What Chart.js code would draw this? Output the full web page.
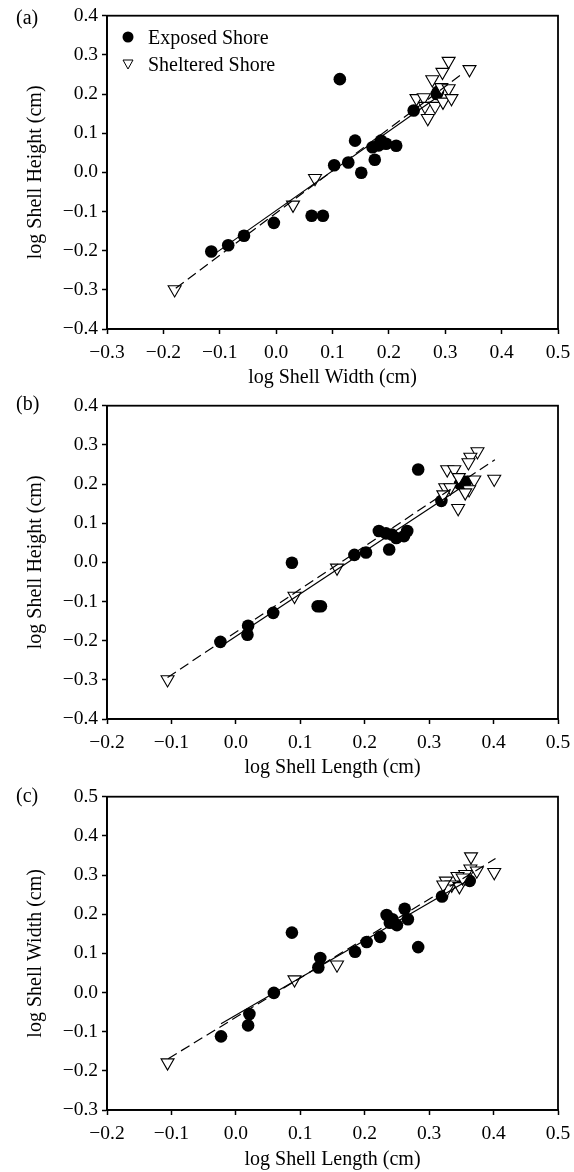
<!DOCTYPE html>
<html lang="en">
<head>
<meta charset="UTF-8">
<title>Shell allometry: exposed vs sheltered shore</title>
<style>
  body { margin: 0; background: #fff; font-family: "Liberation Serif", "Times New Roman", serif; }
  #page { position: relative; width: 574px; height: 1172px; }
  .panel { position: absolute; left: 0; width: 574px; }
  .tag { position: absolute; left: 16px; font-size: 20px; color: #000; line-height: 1; }
  .legend { position: absolute; left: 122px; font-size: 20px; color: #000; }
  .legend div { position: absolute; white-space: nowrap; height: 22px; line-height: 22px; }
  .legend svg { position: absolute; left: 0; }
  .legend span { position: absolute; left: 26px; }
</style>
<script src="https://cdn.jsdelivr.net/npm/chart.js"></script>
</head>
<body>
<div id="page">
  <div class="panel" style="top:0"><canvas id="chartA" width="574" height="390"></canvas></div>
  <div class="panel" style="top:390px"><canvas id="chartB" width="574" height="390"></canvas></div>
  <div class="panel" style="top:781px"><canvas id="chartC" width="574" height="391"></canvas></div>

  <div class="tag" style="top:7px">(a)</div>
  <div class="tag" style="top:393px">(b)</div>
  <div class="tag" style="top:785px">(c)</div>

  <div class="legend" style="top:26px">
    <div style="top:0">
      <svg width="12" height="22"><circle cx="6" cy="11" r="5.5" fill="#000"/></svg>
      <span>Exposed Shore</span>
    </div>
    <div style="top:27px">
      <svg width="12" height="22"><polygon points="1,7 11,7 6,16" fill="#fff" stroke="#000" stroke-width="1"/></svg>
      <span>Sheltered Shore</span>
    </div>
  </div>
</div>

<script>
// (a) log shell height vs log shell width
const aExposedX = [-0.115, -0.085, -0.057, -0.004, 0.063, 0.083, 0.113, 0.103, 0.128, 0.140, 0.151, 0.175, 0.171, 0.186, 0.182, 0.195, 0.213, 0.244, 0.285, 0.287];
const aExposedY = [-0.202, -0.186, -0.162, -0.129, -0.111, -0.111, 0.238, 0.018, 0.025, 0.081, -0.001, 0.032, 0.064, 0.081, 0.069, 0.073, 0.068, 0.158, 0.200, 0.206];
const aShelteredX = [-0.180, 0.030, 0.069, 0.306, 0.295, 0.277, 0.343, 0.293, 0.306, 0.249, 0.262, 0.264, 0.282, 0.296, 0.311, 0.269];
const aShelteredY = [-0.299, -0.083, -0.015, 0.284, 0.256, 0.237, 0.263, 0.217, 0.214, 0.189, 0.191, 0.169, 0.169, 0.180, 0.189, 0.138];
const aExposedFitX = [-0.113, 0.290];
const aExposedFitY = [-0.212, 0.196];
const aShelteredFitX = [-0.178, 0.333];
const aShelteredFitY = [-0.296, 0.255];

// (b) log shell height vs log shell length
const bExposedX = [-0.024, 0.018, 0.019, 0.058, 0.087, 0.127, 0.132, 0.184, 0.202, 0.222, 0.233, 0.238, 0.242, 0.249, 0.261, 0.266, 0.283, 0.319, 0.348, 0.357];
const bExposedY = [-0.203, -0.185, -0.162, -0.129, -0.001, -0.112, -0.112, 0.019, 0.025, 0.080, 0.074, 0.033, 0.071, 0.062, 0.067, 0.080, 0.237, 0.157, 0.200, 0.206];
const bShelteredX = [-0.106, 0.091, 0.157, 0.375, 0.364, 0.361, 0.328, 0.339, 0.346, 0.370, 0.401, 0.325, 0.333, 0.362, 0.356, 0.322, 0.345];
const bShelteredY = [-0.299, -0.086, -0.014, 0.283, 0.269, 0.255, 0.237, 0.237, 0.217, 0.211, 0.213, 0.191, 0.191, 0.186, 0.178, 0.173, 0.138];
const bExposedFitX = [-0.022, 0.358];
const bExposedFitY = [-0.213, 0.200];
const bShelteredFitX = [-0.106, 0.402];
const bShelteredFitY = [-0.294, 0.262];

// (c) log shell width vs log shell length
const cExposedX = [-0.023, 0.019, 0.021, 0.059, 0.087, 0.128, 0.131, 0.185, 0.203, 0.224, 0.234, 0.239, 0.243, 0.250, 0.262, 0.267, 0.283, 0.320, 0.350, 0.363];
const cExposedY = [-0.112, -0.084, -0.055, -0.001, 0.153, 0.064, 0.088, 0.104, 0.129, 0.142, 0.198, 0.178, 0.187, 0.172, 0.214, 0.187, 0.116, 0.245, 0.286, 0.285];
const cShelteredX = [-0.106, 0.091, 0.157, 0.365, 0.401, 0.364, 0.374, 0.356, 0.344, 0.326, 0.335, 0.347, 0.328, 0.352, 0.322];
const cShelteredY = [-0.179, 0.033, 0.071, 0.347, 0.307, 0.316, 0.311, 0.302, 0.297, 0.285, 0.275, 0.271, 0.265, 0.293, 0.275];
const cExposedFitX = [-0.023, 0.366];
const cExposedFitY = [-0.080, 0.292];
const cShelteredFitX = [-0.105, 0.403];
const cShelteredFitY = [-0.169, 0.342];

const serif = "'Liberation Serif', 'Times New Roman', serif";

// pair up x and y lists into chart points
function pts(xs, ys) {
    return xs.map((x, i) => ({ x: x, y: ys[i] }));
}

function fmt(v) {
    if (Math.abs(v) < 1e-9) return '0.0';
    return v.toFixed(1).replace('-', '\u2212');
}

// box around the plotting area
const frame = {
    id: 'frame',
    afterDraw(chart) {
        const a = chart.chartArea;
        const ctx = chart.ctx;
        ctx.save();
        ctx.strokeStyle = '#000';
        ctx.lineWidth = 1.8;
        ctx.strokeRect(a.left, a.top, a.right - a.left, a.bottom - a.top);
        ctx.restore();
    }
};

function axis(min, max, label, isX, fitSize) {
    return {
        type: 'linear',
        min: min,
        max: max,
        ticks: {
            stepSize: 0.1,
            callback: fmt,
            color: '#000',
            font: { family: serif, size: 19.5 },
            padding: isX ? 7 : 4,
            maxRotation: 0
        },
        grid: {
            drawOnChartArea: false,
            drawTicks: true,
            tickLength: 5,
            tickWidth: 1.5,
            tickColor: '#000'
        },
        border: { display: true, color: '#000', width: 1.8 },
        title: {
            display: true,
            text: label,
            color: '#000',
            font: { family: serif, size: 20 },
            padding: isX ? { top: 0, bottom: 0 } : { top: 24, bottom: 0 }
        },
        afterFit(scale) {
            if (isX) {
                scale.height = fitSize;
                scale.paddingLeft = 0;
                scale.paddingRight = 0;
            } else {
                scale.width = fitSize;
            }
        }
    };
}

function makePanel(id, p) {
    const ctx = document.getElementById(id).getContext('2d');
    const h = document.getElementById(id).height;
    return new Chart(ctx, {
        type: 'scatter',
        data: {
            datasets: [
                {
                    label: 'Exposed Shore',
                    data: pts(p.ex, p.ey),
                    pointStyle: 'circle',
                    pointRadius: 6.3,
                    backgroundColor: '#000',
                    borderColor: '#000',
                    borderWidth: 0,
                    order: 3
                },
                {
                    label: 'Sheltered Shore',
                    data: pts(p.sx, p.sy),
                    pointStyle: 'triangle',
                    pointRotation: 180,
                    pointRadius: 7.5,
                    backgroundColor: '#fff',
                    borderColor: '#000',
                    borderWidth: 1.1,
                    order: 2
                },
                {
                    label: 'Exposed fit',
                    data: pts(p.efx, p.efy),
                    showLine: true,
                    pointRadius: 0,
                    borderColor: '#000',
                    borderWidth: 1.2,
                    order: 1
                },
                {
                    label: 'Sheltered fit',
                    data: pts(p.sfx, p.sfy),
                    showLine: true,
                    pointRadius: 0,
                    borderColor: '#000',
                    borderWidth: 1.2,
                    borderDash: [10, 5],
                    order: 0
                }
            ]
        },
        options: {
            responsive: false,
            animation: false,
            devicePixelRatio: 1,
            layout: { padding: { left: 0, right: 16, top: 14, bottom: 0 } },
            scales: {
                x: axis(p.xmin, p.xmax, p.xlabel, true, h - 14 - 315),
                y: axis(p.ymin, p.ymax, p.ylabel, false, 107)
            },
            plugins: {
                legend: { display: false },
                tooltip: { enabled: false }
            }
        },
        plugins: [frame]
    });
}

makePanel('chartA', {
    ex: aExposedX, ey: aExposedY, sx: aShelteredX, sy: aShelteredY,
    efx: aExposedFitX, efy: aExposedFitY, sfx: aShelteredFitX, sfy: aShelteredFitY,
    xmin: -0.3, xmax: 0.5, ymin: -0.4, ymax: 0.4,
    xlabel: 'log Shell Width (cm)', ylabel: 'log Shell Height (cm)'
});

makePanel('chartB', {
    ex: bExposedX, ey: bExposedY, sx: bShelteredX, sy: bShelteredY,
    efx: bExposedFitX, efy: bExposedFitY, sfx: bShelteredFitX, sfy: bShelteredFitY,
    xmin: -0.2, xmax: 0.5, ymin: -0.4, ymax: 0.4,
    xlabel: 'log Shell Length (cm)', ylabel: 'log Shell Height (cm)'
});

makePanel('chartC', {
    ex: cExposedX, ey: cExposedY, sx: cShelteredX, sy: cShelteredY,
    efx: cExposedFitX, efy: cExposedFitY, sfx: cShelteredFitX, sfy: cShelteredFitY,
    xmin: -0.2, xmax: 0.5, ymin: -0.3, ymax: 0.5,
    xlabel: 'log Shell Length (cm)', ylabel: 'log Shell Width (cm)'
});
</script>
</body>
</html>
